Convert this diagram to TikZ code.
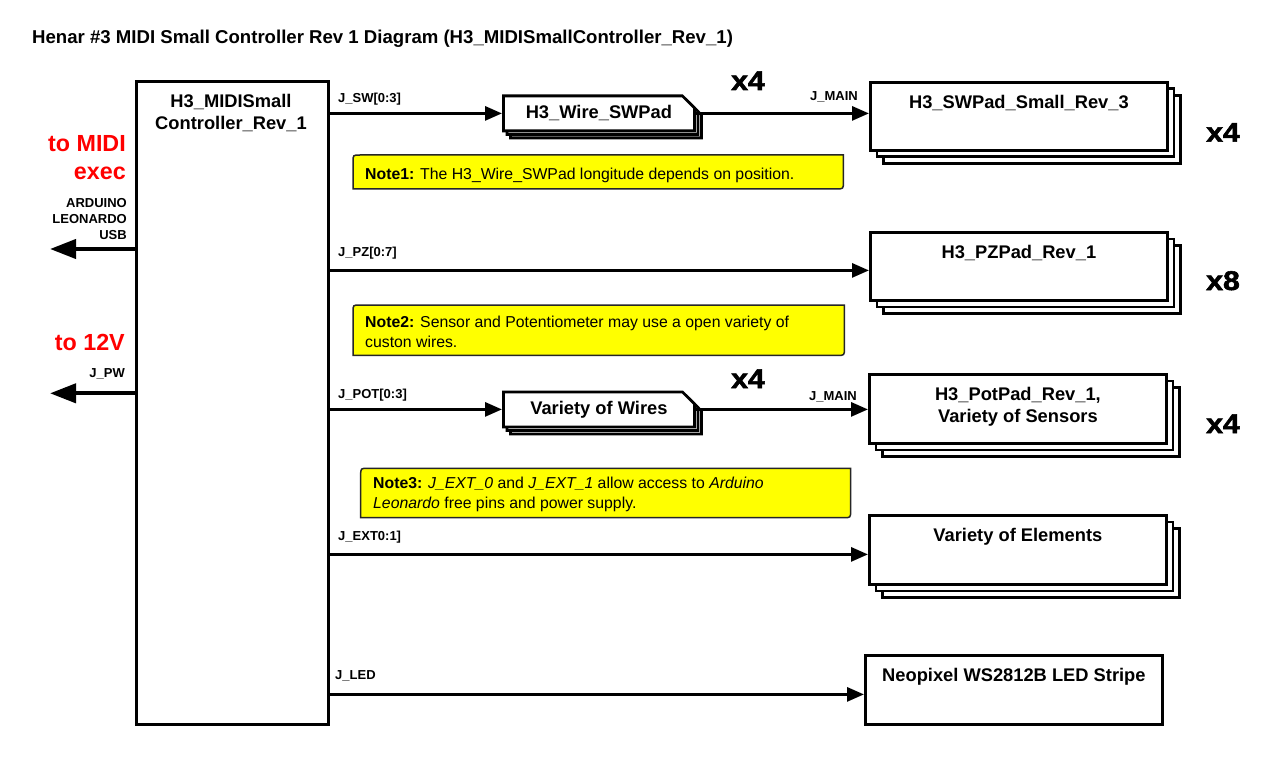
\documentclass[tikz,border=0pt]{standalone}
\usepackage{fontspec}
\setmainfont{Liberation Sans}
\newfontfamily\multfont{Liberation Sans}[BoldFeatures={FakeBold=2}]
\usetikzlibrary{arrows.meta,shapes.misc,shadows,calc}
\definecolor{noteyellow}{RGB}{255,255,0}
\newcommand\mynoteframe[1]{%
  \draw[noteline] ([yshift=-7pt]#1.north west) .. controls (#1.north west) .. ([xshift=7pt]#1.north west)
    -- (#1.north east) -- ([yshift=7pt]#1.south east) .. controls (#1.south east) .. ([xshift=-7pt]#1.south east)
    -- (#1.south west) -- cycle;}
\begin{document}
\begin{tikzpicture}[x=1pt,y=-1pt,
  box/.style={draw, line width=2.8pt, fill=white, inner sep=0pt, anchor=north west},
  stack/.style={box, minimum width=297, minimum height=68,
    copy shadow={shadow xshift=13pt, shadow yshift=-13pt},
    copy shadow={shadow xshift=6.5pt, shadow yshift=-6.5pt}},
  bigbold/.style={font=\fontsize{18.3}{22.3}\selectfont\bfseries, inner sep=0pt, align=center},
  wire/.style={box, bigbold, chamfered rectangle, chamfered rectangle corners=north east,
    chamfered rectangle xsep=6pt, chamfered rectangle ysep=6pt, minimum width=191, minimum height=35,
    copy shadow={shadow xshift=7pt, shadow yshift=-7pt},
    copy shadow={shadow xshift=3.5pt, shadow yshift=-3.5pt}},
  lbl/.style={font=\fontsize{13}{16}\selectfont\bfseries, inner sep=0pt},
  redlbl/.style={font=\fontsize{23.3}{28.3}\selectfont\bfseries, text=red, inner sep=0pt, align=right},
  notebg/.style={draw=none, inner sep=0pt, anchor=north west},
  noteline/.style={draw=black!85, line width=1.5pt, fill=noteyellow},
  notetxt/.style={font=\fontsize{15.8}{19.5}\selectfont, inner sep=0pt, align=left},
  mult/.style={font=\fontsize{27}{30}\selectfont\multfont\bfseries, inner sep=0pt},
  conn/.style={line width=3pt, -{Triangle[length=17pt,width=14pt]}},
  bigarr/.style={line width=4pt, -{Triangle[length=26pt,width=19pt]}}
]
\useasboundingbox[fill=white] (0,0) rectangle (1286,757);

% title
\node[anchor=base west, font=\fontsize{18.6}{22}\selectfont\bfseries, inner sep=0pt] (title) at (32,43.3)
  {Henar \#3 MIDI Small Controller Rev 1 Diagram (H3\_MIDISmallController\_Rev\_1)};

% main controller
\node[box, minimum width=192, minimum height=643] (main) at (135,80) {};
\node[bigbold, anchor=base] (maint) at (231,130) {H3\_MIDISmall\\Controller\_Rev\_1};

% left side
\node[redlbl, anchor=base east] (midi) at (126,180) {to MIDI\\exec};
\node[lbl, align=right, anchor=base east] (usb) at (127,239) {ARDUINO\\LEONARDO\\USB};
\coordinate (usbend) at (50,249);
\draw[bigarr] (usbend -| main.west) -- (usbend);
\node[redlbl, anchor=base east] (v12) at (125,350.7) {to 12V};
\node[lbl, anchor=base east] (jpw) at (125,377.3) {J\_PW};
\coordinate (pwend) at (50,393.3);
\draw[bigarr] (pwend -| main.west) -- (pwend);

% wire boxes
\node[wire] (wsw) at (502,94.5) {H3\_Wire\_SWPad};
\node[wire] (wpot) at (502,390.5) {Variety of Wires};

% stacked boxes
\node[stack] (sw) at (869,81) {};
\node[bigbold, anchor=base] (swt) at ([yshift=-27.3pt]sw.north) {H3\_SWPad\_Small\_Rev\_3};
\node[stack] (pz) at (869,231) {};
\node[bigbold, anchor=base] (pzt) at ([yshift=-27.3pt]pz.north) {H3\_PZPad\_Rev\_1};
\node[stack, minimum height=69] (pot) at (868,373) {};
\node[bigbold, anchor=base] (pott) at ([yshift=-49.3pt]pot.north) {H3\_PotPad\_Rev\_1,\\Variety of Sensors};
\node[stack, minimum height=69] (el) at (868,514) {};
\node[bigbold, anchor=base] (elt) at ([yshift=-27.7pt]el.north) {Variety of Elements};
\node[box, minimum width=297, minimum height=69] (led) at (864,654) {};
\node[bigbold, anchor=base] (ledt) at ([yshift=-27.7pt]led.north) {Neopixel WS2812B LED Stripe};

% multipliers
\node[mult, anchor=base west] (m1) at (731,90) {\scalebox{1.12}[1]{x4}};
\node[mult, anchor=base west] (m2) at (1206,141.7) {\scalebox{1.12}[1]{x4}};
\node[mult, anchor=base west] (m3) at (1206,290) {\scalebox{1.12}[1]{x8}};
\node[mult, anchor=base west] (m4) at (731,388) {\scalebox{1.12}[1]{x4}};
\node[mult, anchor=base west] (m5) at (1206,433) {\scalebox{1.12}[1]{x4}};

% notes
\node[notebg, minimum width=490, minimum height=33.5] (n1) at (353,155) {};
\mynoteframe{n1}
\node[notetxt, anchor=base west] (n1t) at (365,179) {\textbf{Note1:} The H3\_Wire\_SWPad longitude depends on position.};
\node[notebg, minimum width=491, minimum height=50] (n2) at (353,305) {};
\mynoteframe{n2}
\node[notetxt, anchor=base west] (n2t) at (365,347) {\textbf{Note2:} Sensor and Potentiometer may use a open variety of\\custon wires.};
\node[notebg, minimum width=489.5, minimum height=49] (n3) at (360.7,468.3) {};
\mynoteframe{n3}
\node[notetxt, anchor=base west] (n3t) at (373,508.3) {\textbf{Note3:} \textit{J\_EXT\_0} and \textit{J\_EXT\_1} allow access to \textit{Arduino}\\\textit{Leonardo} free pins and power supply.};

% connector labels
\node[lbl, anchor=base west] (ljsw) at (338,103) {J\_SW[0:3]};
\node[lbl, anchor=base east] (ljm1) at (858,100.7) {J\_MAIN};
\node[lbl, anchor=base west] (ljpz) at (338,256) {J\_PZ[0:7]};
\node[lbl, anchor=base west] (ljpot) at (338,398.3) {J\_POT[0:3]};
\node[lbl, anchor=base east] (ljm2) at (857,400) {J\_MAIN};
\node[lbl, anchor=base west] (ljext) at (338,540) {J\_EXT0:1]};
\node[lbl, anchor=base west] (ljled) at (335,679.3) {J\_LED};

% connectors
\draw[conn] (wsw.west -| main.east) -- (wsw.west);
\draw[conn] (wsw.east) -- (wsw.east -| sw.west);
\coordinate (pzin) at ([yshift=-4pt]pz.west);
\draw[conn] (pzin -| main.east) -- (pzin);
\draw[conn] (wpot.west -| main.east) -- (wpot.west);
\draw[conn] (wpot.east) -- (wpot.east -| pot.west);
\coordinate (elin) at ([yshift=-4.5pt]el.west);
\draw[conn] (elin -| main.east) -- (elin);
\coordinate (ledin) at ([yshift=-4.5pt]led.west);
\draw[conn] (ledin -| main.east) -- (ledin);
\end{tikzpicture}
\end{document}
